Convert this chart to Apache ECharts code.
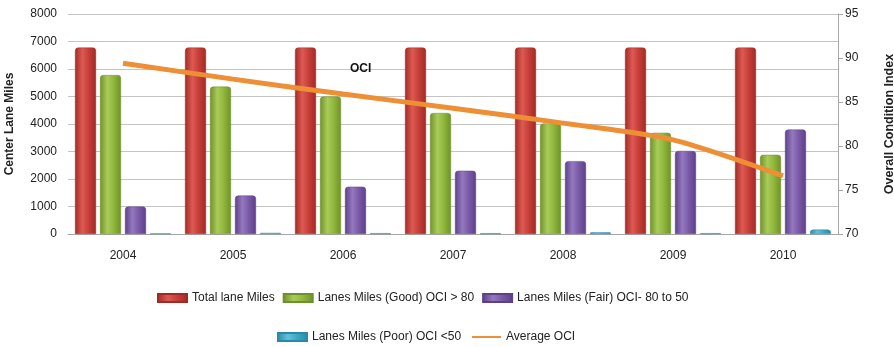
<!DOCTYPE html>
<html>
<head>
<meta charset="utf-8">
<script src="https://cdn.jsdelivr.net/npm/echarts@6/dist/echarts.min.js"></script>
<style>
  html, body { margin: 0; padding: 0; background: #fff; }
  #chart { width: 894px; height: 347px; }
</style>
</head>
<body>
<div id="chart"></div>
<script>
// Pavement condition by year: lane miles per condition band and the average OCI
var years = ['2004', '2005', '2006', '2007', '2008', '2009', '2010'];
var totalLaneMiles = [6780, 6780, 6780, 6780, 6780, 6780, 6780];
var goodLaneMiles  = [5780, 5360, 5000, 4400, 4020, 3680, 2880];
var fairLaneMiles  = [1000, 1400, 1720, 2300, 2650, 3020, 3800];
var poorLaneMiles  = [20, 40, 30, 30, 60, 30, 160];
var averageOCI     = [89.4, 87.6, 85.9, 84.3, 82.6, 80.7, 76.6];

var leftTicks = { min: 0, max: 8000, interval: 1000 };
var rightTicks = { min: 70, max: 95, interval: 5 };

var FONT = '"Liberation Sans", Arial, sans-serif';

function barFill(dark, mid, light) {
  return {
    type: 'linear', x: 0, y: 0, x2: 1, y2: 0,
    colorStops: [
      { offset: 0, color: dark },
      { offset: 0.35, color: light },
      { offset: 0.65, color: mid },
      { offset: 1, color: dark }
    ]
  };
}

function barSeries(name, data, dark, mid, light) {
  return {
    name: name,
    type: 'bar',
    yAxisIndex: 0,
    data: data,
    barWidth: 21,
    barGap: '19%',
    itemStyle: {
      color: barFill(dark, mid, light),
      borderRadius: [3, 3, 0, 0],
      borderColor: dark,
      borderWidth: 0.5
    },
    emphasis: { disabled: true }
  };
}

var legendText = { fontFamily: FONT, fontSize: 12, color: '#222' };

var chart = echarts.init(document.getElementById('chart'), null, { renderer: 'canvas' });
chart.setOption({
  animation: false,
  color: ['#C63E38', '#90B73C', '#7A5AA8', '#3BA7C6', '#EE8F36'],
  grid: { left: 68, right: 56, top: 14, bottom: 113, containLabel: false, outerBoundsMode: 'none' },
  legend: [
    {
      data: ['Total lane Miles', 'Lanes Miles (Good) OCI > 80', 'Lanes Miles (Fair) OCI- 80 to 50'],
      left: 152, top: 287,
      itemWidth: 29, itemHeight: 8, itemGap: 8,
      textStyle: legendText,
      icon: 'rect'
    },
    {
      data: ['Lanes Miles (Poor) OCI <50'],
      left: 272, top: 326,
      itemWidth: 29, itemHeight: 8,
      textStyle: legendText,
      icon: 'rect'
    },
    {
      data: ['Average OCI'],
      left: 467, top: 326,
      itemWidth: 29, itemHeight: 2,
      textStyle: legendText,
      icon: 'rect'
    }
  ],
  xAxis: {
    type: 'category',
    data: years,
    axisLine: { show: true, lineStyle: { color: '#A6A6A6', width: 1 } },
    axisTick: { show: false },
    axisLabel: { fontFamily: FONT, fontSize: 12, color: '#222', margin: 16 }
  },
  yAxis: [
    {
      type: 'value',
      min: leftTicks.min, max: leftTicks.max, interval: leftTicks.interval,
      name: 'Center Lane Miles',
      nameLocation: 'middle',
      nameGap: 52,
      nameTextStyle: { fontFamily: FONT, fontSize: 12, fontWeight: 'bold', color: '#222' },
      axisLine: { show: false },
      axisTick: { show: false },
      axisLabel: {
        fontFamily: FONT, fontSize: 12, color: '#222', margin: 11,
        formatter: function (v) { return String(v); }
      },
      splitLine: { lineStyle: { color: '#C4C4C4', width: 1 } }
    },
    {
      type: 'value',
      position: 'right',
      min: rightTicks.min, max: rightTicks.max, interval: rightTicks.interval,
      name: 'Overall Condition Index',
      nameLocation: 'middle',
      nameGap: 45,
      nameRotate: 90,
      nameTextStyle: { fontFamily: FONT, fontSize: 12.5, fontWeight: 'bold', color: '#222' },
      axisLine: { show: true, lineStyle: { color: '#A6A6A6', width: 1 } },
      axisTick: { show: true, length: 5, lineStyle: { color: '#A6A6A6' } },
      axisLabel: { fontFamily: FONT, fontSize: 12, color: '#222', margin: 7 },
      splitLine: { show: false }
    }
  ],
  series: [
    barSeries('Total lane Miles', totalLaneMiles, '#A22A26', '#C63E38', '#DD5A52'),
    barSeries('Lanes Miles (Good) OCI > 80', goodLaneMiles, '#6F9129', '#90B73C', '#A9CB5A'),
    barSeries('Lanes Miles (Fair) OCI- 80 to 50', fairLaneMiles, '#5C4088', '#7A5AA8', '#9479BF'),
    barSeries('Lanes Miles (Poor) OCI <50', poorLaneMiles, '#2A89A6', '#3BA7C6', '#62C0DA'),
    {
      name: 'Average OCI',
      type: 'line',
      yAxisIndex: 1,
      data: averageOCI,
      smooth: 0.25,
      showSymbol: false,
      symbol: 'none',
      lineStyle: { color: '#EE8F36', width: 5 },
      itemStyle: { color: '#EE8F36' },
      emphasis: { disabled: true },
      z: 5
    }
  ],
  graphic: [
    {
      type: 'text',
      left: 350, top: 63,
      style: { text: 'OCI', font: 'bold 12px ' + FONT, fill: '#111' },
      z: 10
    }
  ]
});
</script>
</body>
</html>
